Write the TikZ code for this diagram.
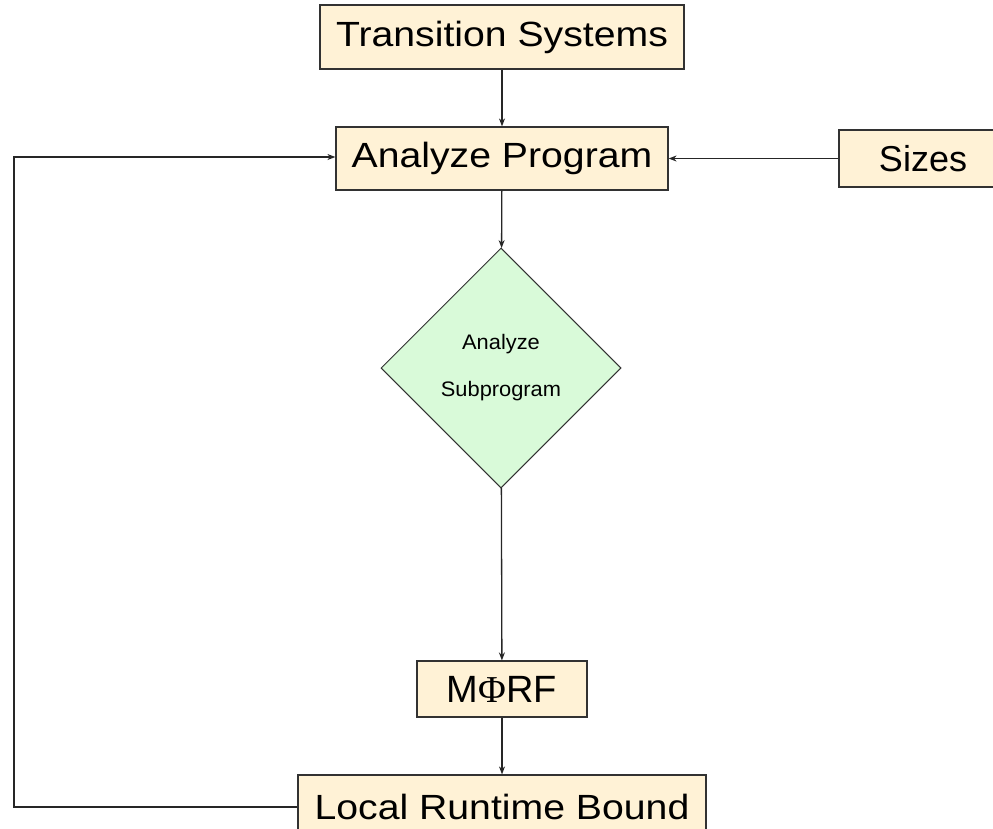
\documentclass[tikz,border=0pt]{standalone}
\usepackage{fontspec}
\setmainfont{Liberation Sans}
\newfontfamily\widesans[FakeStretch=1.12]{Liberation Sans}
\newfontfamily\smallsans[FakeStretch=1.04]{Liberation Sans}
\newfontfamily\phifont{Liberation Serif}
\usetikzlibrary{shapes.geometric,arrows.meta}
\definecolor{boxfill}{RGB}{255,242,214}
\definecolor{dfill}{RGB}{217,250,217}
\definecolor{edge}{RGB}{50,50,50}
\tikzset{
  box/.style={draw=edge, line width=1.2pt, fill=boxfill, inner sep=0pt,
    font=\widesans\fontsize{35}{40}\selectfont},
  dia/.style={diamond, aspect=1, draw=edge, line width=1pt, fill=dfill, inner sep=0pt,
    minimum size=240pt, align=center, font=\smallsans\fontsize{21}{47}\selectfont},
  conn/.style={draw=black!85, line width=1.3pt, -{Stealth[length=8pt,width=6pt]}}
}
\begin{document}
\begin{tikzpicture}[x=1pt,y=-1pt]
\useasboundingbox (0,0) rectangle (993,828);
\node[box, minimum width=364pt, minimum height=64pt] (ts) at (502,37) {Transition Systems};
\node[box, minimum width=332pt, minimum height=63pt] (ap) at (502,158.5) {Analyze Program};
\node[box, minimum width=168pt, minimum height=57pt, font=\fontsize{36}{40}\selectfont] (sz) at (923,158.5) {Sizes};
\node[dia] (sub) at (501,368) {Analyze\\Subprogram};
\node[box, minimum width=170pt, minimum height=56pt, font=\fontsize{38}{42}\selectfont] (mrf) at (502,689) {M{\phifont Φ}RF};
\node[box, minimum width=408pt, minimum height=64pt] (lrb) at (502,807) {Local Runtime Bound};
\coordinate (c1) at (14,807);
\coordinate (c2) at (14,157);
\draw[conn] (ts) -- (ap);
\draw[conn] (sz) -- (ap);
\draw[conn] (ap) -- (sub);
\draw[conn] (sub) -- (mrf);
\draw[conn] (mrf) -- (lrb);
\draw[conn] (lrb.west) -- (c1) -- (c2) -- (ap.west |- c2);
\end{tikzpicture}
\end{document}
